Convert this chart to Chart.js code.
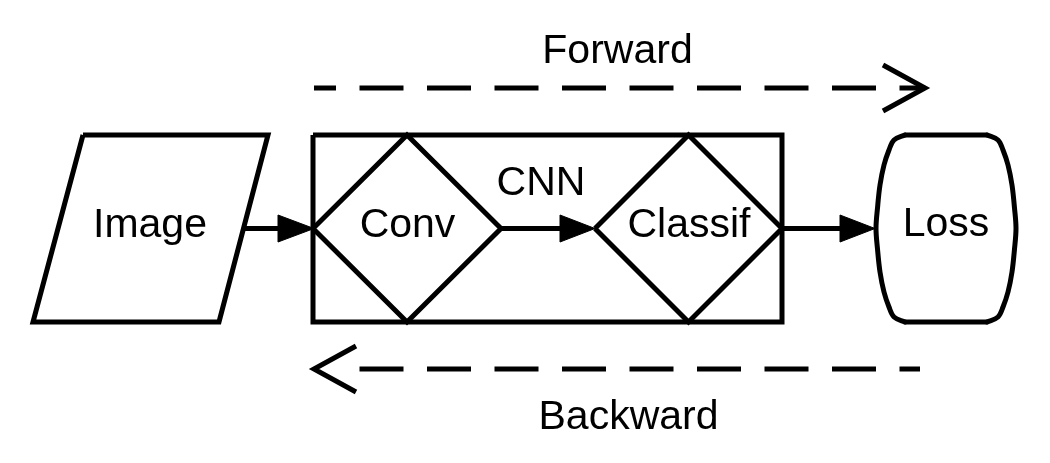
<!DOCTYPE html>
<html>
<head>
<meta charset="utf-8">
<script src="https://cdn.jsdelivr.net/npm/chart.js@4/dist/chart.umd.min.js"></script>
<style>
  html, body { margin: 0; padding: 0; background: #fff; }
  #wrap { width: 1050px; height: 463px; position: relative; }
</style>
</head>
<body>
<div id="wrap"><canvas id="flowChart"></canvas></div>
<script>
// shape outlines, in picture coordinates (x right, y down)
var imageX = [83, 268, 219, 33, 83]
var imageY = [135, 135, 322, 322, 135]
var cnnX = [313, 782, 782, 313, 313]
var cnnY = [135, 135, 322, 322, 135]
var convX = [313, 407, 501, 407, 313]
var convY = [228.5, 135, 228.5, 322, 228.5]
var classifX = [595, 688.5, 782, 688.5, 595]
var classifY = [228.5, 135, 228.5, 322, 228.5]
// Loss: two curved sides plus flat top and bottom
var lossLeftX = [905, 894, 889, 884, 880, 877.5, 876, 877.5, 880, 884, 889, 894, 905]
var lossRightX = [987, 998, 1003, 1008, 1012, 1014.5, 1016, 1014.5, 1012, 1008, 1003, 998, 987]
var lossSideY = [135, 140, 150, 165, 185, 208, 228.5, 249, 272, 292, 307, 317, 322]
var lossFlatX = [905, 987]
var lossTopY = [135, 135]
var lossBottomY = [322, 322]

// connectors: shaft start/end and arrow head triangle
var shaftStartX = [243, 501, 782]
var shaftEndX = [280, 562, 842]
var shaftY = 228.5
var headBaseX = [278, 560, 840]
var headTipX = [314, 595, 875]
var headHalf = 13.5

// forward / backward dashed arrows
var forwardX = [314, 925]
var forwardY = [88, 88]
var forwardHeadX = [883, 925, 883]
var forwardHeadY = [65, 88, 111]
var backwardX = [336, 920]
var backwardY = [369, 369]
var backwardHeadX = [356, 314, 356]
var backwardHeadY = [346, 369, 392]

// text labels (x = centre, y = baseline)
var labelText = ['Forward', 'CNN', 'Image', 'Conv', 'Classif', 'Loss', 'Backward']
var labelX = [617.5, 541, 150, 407.5, 689, 946, 628.5]
var labelY = [63, 195, 237, 237, 237, 236, 429]

function pts(xs, ys) {
  return xs.map(function(x, i) { return { x: x, y: ys[i] } })
}

function outline(xs, ys, extra) {
  return Object.assign({
    data: pts(xs, ys),
    showLine: true,
    pointRadius: 0,
    borderColor: '#000',
    borderWidth: 5,
    borderJoinStyle: 'miter',
    fill: false,
    tension: 0
  }, extra || {})
}

var datasets = [
  outline(imageX, imageY),
  outline(cnnX, cnnY),
  outline(convX, convY),
  outline(classifX, classifY),
  outline(lossLeftX, lossSideY, { tension: 0.35, borderCapStyle: 'round', borderJoinStyle: 'round' }),
  outline(lossRightX, lossSideY, { tension: 0.35, borderCapStyle: 'round', borderJoinStyle: 'round' }),
  outline(lossFlatX, lossTopY, { borderCapStyle: 'round' }),
  outline(lossFlatX, lossBottomY, { borderCapStyle: 'round' })
]

shaftStartX.forEach(function(sx, i) {
  datasets.push(outline([sx, shaftEndX[i]], [shaftY, shaftY]))
  datasets.push(outline(
    [headBaseX[i], headTipX[i], headBaseX[i], headBaseX[i]],
    [shaftY - headHalf, shaftY, shaftY + headHalf, shaftY - headHalf],
    { fill: 'shape', backgroundColor: '#000', borderWidth: 1 }
  ))
})

datasets.push(outline(forwardX, forwardY, { borderDash: [44, 23.5], borderDashOffset: 22 }))
datasets.push(outline(forwardHeadX, forwardHeadY))
datasets.push(outline(backwardX, backwardY, { borderDash: [44, 23.5], borderDashOffset: 44 }))
datasets.push(outline(backwardHeadX, backwardHeadY))

var textPlugin = {
  id: 'diagramText',
  afterDatasetsDraw: function(chart) {
    var ctx = chart.ctx
    var xs = chart.scales.x
    var ys = chart.scales.y
    ctx.save()
    ctx.fillStyle = '#000'
    ctx.font = '41px "Liberation Sans", Arial, sans-serif'
    ctx.textAlign = 'center'
    ctx.textBaseline = 'alphabetic'
    labelText.forEach(function(t, i) {
      ctx.fillText(t, xs.getPixelForValue(labelX[i]), ys.getPixelForValue(labelY[i]))
    })
    ctx.restore()
  }
}

var flowChart = new Chart(document.getElementById('flowChart').getContext('2d'), {
  type: 'scatter',
  data: { datasets: datasets },
  options: {
    responsive: true,
    maintainAspectRatio: false,
    animation: false,
    layout: { padding: 0 },
    plugins: {
      legend: { display: false },
      tooltip: { enabled: false }
    },
    scales: {
      x: { type: 'linear', min: 0, max: 1050, display: false },
      y: { type: 'linear', min: 0, max: 463, reverse: true, display: false }
    }
  },
  plugins: [textPlugin]
})
</script>
</body>
</html>
